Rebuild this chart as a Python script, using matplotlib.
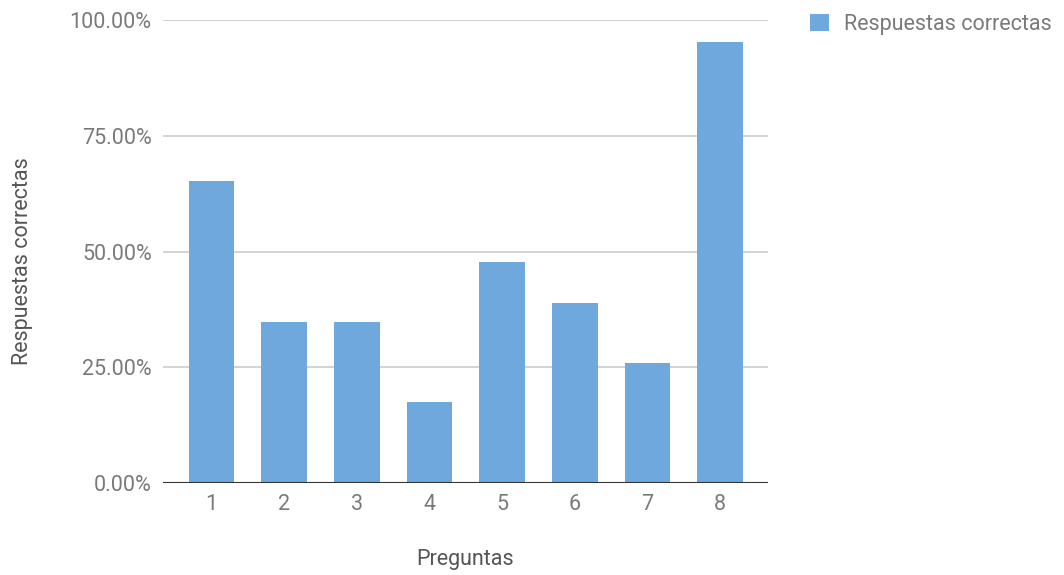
import matplotlib
matplotlib.use("Agg")
import matplotlib.pyplot as plt
from matplotlib.ticker import PercentFormatter

preguntas = ["1", "2", "3", "4", "5", "6", "7", "8"]
correctas = [0.652, 0.348, 0.348, 0.174, 0.478, 0.389, 0.259, 0.952]
yticks = [0.0, 0.25, 0.50, 0.75, 1.0]

bar_color = "#6fa8dc"
text_color = "#7a7a7a"
fs = 15.5

plt.rcParams['font.family'] = ['Roboto', 'DejaVu Sans']

fig = plt.figure(figsize=(10.64, 5.75), dpi=100)
ax = fig.add_axes([0.153, 0.16, 0.569, 0.805])

xpos = list(range(1, len(preguntas) + 1))
bars = ax.bar(xpos, correctas, width=0.63, color=bar_color, label="Respuestas correctas", zorder=3)

ax.set_xlim(0.33, 8.66)
ax.set_ylim(0, 1.0)
ax.set_xticks(xpos)
ax.set_xticklabels(preguntas)
ax.set_yticks(yticks)
ax.yaxis.set_major_formatter(PercentFormatter(xmax=1.0, decimals=2))

ax.grid(axis='y', color='#cccccc', linewidth=1.2, zorder=0)
ax.axhline(0, color='#333333', linewidth=1.5, zorder=4)
for side in ['top', 'right', 'left', 'bottom']:
    ax.spines[side].set_visible(False)
ax.tick_params(axis='both', length=0, labelsize=fs, labelcolor=text_color)
ax.tick_params(axis='y', pad=8)
ax.tick_params(axis='x', pad=8)

ax.set_xlabel("Preguntas", fontsize=fs, color='#555555')
ax.set_ylabel("Respuestas correctas", fontsize=fs, color='#555555')
ax.xaxis.set_label_coords(0.5, -0.142)
ax.yaxis.set_label_coords(-0.215, 0.48)

fig.legend(handles=[bars], labels=["Respuestas correctas"], loc='upper left',
           bbox_to_anchor=(0.757, 0.984), frameon=False, fontsize=fs,
           borderaxespad=0.0, borderpad=0.2,
           handlelength=0.9, handleheight=0.9, handletextpad=0.7, labelcolor=text_color)

fig.savefig("out.png", dpi=100)
